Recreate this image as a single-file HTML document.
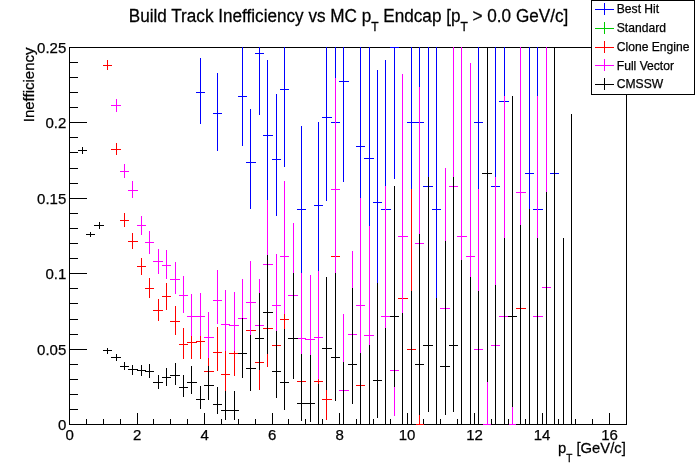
<!DOCTYPE html>
<html><head><meta charset="utf-8"><title>Build Track Inefficiency</title>
<style>html,body{margin:0;padding:0;background:#fff;}svg{display:block;will-change:transform;}</style>
</head><body>
<svg width="696" height="472" viewBox="0 0 696 472" shape-rendering="crispEdges">
<rect x="0" y="0" width="696" height="472" fill="#fff"/>
<path d="M69.5 47.5H626.5V424.5H69.5Z" stroke="#000" fill="none"/>
<path d="M69 409.5H77.5M69 394.5H77.5M69 379.5H77.5M69 364.5H77.5M69 349.5H87M69 334.5H77.5M69 319.5H77.5M69 303.5H77.5M69 288.5H77.5M69 273.5H87M69 258.5H77.5M69 243.5H77.5M69 228.5H77.5M69 213.5H77.5M69 198.5H87M69 183.5H77.5M69 168.5H77.5M69 152.5H77.5M69 137.5H77.5M69 122.5H87M69 107.5H77.5M69 92.5H77.5M69 77.5H77.5M69 62.5H77.5M69 47.5H87M86.5 425V419M103.5 425V419M120.5 425V419M137.5 425V413M153.5 425V419M170.5 425V419M187.5 425V419M204.5 425V413M221.5 425V419M238.5 425V419M255.5 425V419M272.5 425V413M288.5 425V419M305.5 425V419M322.5 425V419M339.5 425V413M356.5 425V419M373.5 425V419M390.5 425V419M407.5 425V413M423.5 425V419M440.5 425V419M457.5 425V419M474.5 425V413M491.5 425V419M508.5 425V419M525.5 425V419M542.5 425V413M558.5 425V419M575.5 425V419M592.5 425V419M609.5 425V413M626.5 425V419" stroke="#000" fill="none"/>
<path d="M200.5 58V124M196 92.5H205M217.5 73V151M213 113.5H222M242.5 47V146M238 96.5H247M250.5 109V209M246 162.5H256M259.5 47V115M255 53.5H264M267.5 60V200M263 135.5H273M276.5 94V216M272 159.5H281M284.5 47V167M280 89.5H289M301.5 126V273M297 209.5H306M318.5 122V271M314 205.5H323M326.5 47V201M322 117.5H332M335.5 47V78M331 122.5H340M343.5 47V182M339 81.5H349M360.5 47V198M356 146.5H365M369.5 47V226M364 158.5H374M377.5 70V283M373 202.5H382M385.5 60V186M381 209.5H391M394.5 47V179M390 47.5H399M411.5 47V189M407 122.5H416M419.5 47V87M415 122.5H424M428.5 47V177M423 186.5H433M436.5 47V298M432 209.5H441M478.5 47V189M474 122.5H483M495.5 47V177M491 186.5H500M504.5 47V96M499 101.5H509M529.5 47V209M525 173.5H534M537.5 47V96M533 209.5H543M554.5 47V192M550 173.5H559" stroke="#0000ff" stroke-width="1" fill="none"/>
<path d="M107.5 60V70M103 65.5H112M116.5 143V155M111 149.5H121M124.5 213V227M120 220.5H129M132.5 233V249M128 241.5H138M141.5 258V275M137 266.5H146M149.5 278V298M145 288.5H154M158.5 299V321M153 310.5H163M166.5 283V310M162 296.5H171M175.5 306V335M170 321.5H180M183.5 328V359M179 344.5H188M191.5 330V359M187 342.5H197M200.5 330V359M196 341.5H205M208.5 350V380M204 371.5H214M217.5 327V371M213 352.5H222M225.5 345V391M221 374.5H230M234.5 340V376M229 353.5H239M250.5 300V334M246 330.5H256M259.5 335V390M255 362.5H264M267.5 300V367M263 328.5H273M276.5 332V397M272 345.5H281M284.5 305V329M280 319.5H289M301.5 360V405M297 381.5H306M318.5 375V384M314 381.5H323M326.5 380V420M322 399.5H332M335.5 200V270M331 256.5H340M360.5 360V410M356 385.5H365M402.5 240V312M398 298.5H408M411.5 189V425M407 349.5H416M419.5 415V425M415 424.5H424M520.5 230V400M516 308.5H526" stroke="#ff0000" stroke-width="1" fill="none"/>
<path d="M116.5 99V112M111 105.5H121M124.5 164V178M120 171.5H129M132.5 181V198M128 190.5H138M141.5 216V235M137 225.5H146M149.5 231V254M145 242.5H154M158.5 249V274M153 261.5H163M166.5 250V279M162 265.5H171M175.5 262V294M170 279.5H180M183.5 276V313M179 295.5H188M191.5 294V336M187 316.5H197M200.5 293V336M196 316.5H205M208.5 312V358M204 337.5H214M217.5 270V324M213 300.5H222M225.5 290V351M221 324.5H230M234.5 292V351M229 325.5H239M242.5 279V330M238 318.5H247M250.5 261V335M246 302.5H256M259.5 279V340M255 325.5H264M267.5 200V300M263 264.5H273M276.5 254V331M272 305.5H281M284.5 181V314M280 256.5H289M293.5 223V300M288 295.5H298M301.5 273V354M297 338.5H306M310.5 275V355M305 339.5H315M318.5 271V379M314 337.5H323M335.5 78V273M331 189.5H340M343.5 314V400M339 390.5H349M352.5 251V340M348 334.5H357M360.5 198V353M356 305.5H365M369.5 226V345M364 335.5H374M385.5 186V328M381 316.5H391M394.5 340V416M390 370.5H399M402.5 74V313M398 236.5H408M419.5 87V260M415 243.5H424M445.5 168V340M440 308.5H450M453.5 47V200M449 186.5H458M461.5 47V260M457 236.5H467M470.5 63V277M466 256.5H475M478.5 189V400M474 349.5H483M487.5 382V425M482 424.5H492M495.5 177V380M491 345.5H500M504.5 96V380M499 316.5H509M512.5 407V425M508 424.5H517M520.5 47V280M516 192.5H526M537.5 96V380M533 316.5H543M546.5 47V380M542 287.5H551" stroke="#ff00ff" stroke-width="1" fill="none"/>
<path d="M82.5 147V154M78 150.5H87M90.5 232V237M86 234.5H95M99.5 222V229M94 225.5H104M107.5 348V354M103 350.5H112M116.5 354V361M111 357.5H121M124.5 362V370M120 366.5H129M132.5 365V375M128 369.5H138M141.5 365V376M137 370.5H146M149.5 364V378M145 371.5H154M158.5 375V389M153 382.5H163M166.5 368V386M162 377.5H171M175.5 363V385M170 375.5H180M183.5 375V397M179 387.5H188M191.5 366V394M187 382.5H197M200.5 386V409M196 399.5H205M208.5 366V400M204 385.5H214M217.5 387V414M213 404.5H222M225.5 391V420M221 410.5H230M234.5 391V420M229 410.5H239M242.5 318V378M238 353.5H247M250.5 335V391M246 368.5H256M259.5 293V370M255 338.5H264M267.5 255V354M263 312.5H273M276.5 331V398M272 371.5H281M284.5 329V410M280 382.5H289M293.5 273V379M288 338.5H298M301.5 354V421M297 403.5H306M310.5 355V422M305 403.5H315M318.5 384V425M314 424.5H323M326.5 277V390M322 348.5H332M335.5 273V401M331 357.5H340M343.5 362V425M339 424.5H349M352.5 288V404M348 364.5H357M360.5 353V425M356 424.5H365M369.5 345V425M364 424.5H374M377.5 283V418M373 380.5H382M385.5 328V425M381 424.5H391M394.5 186V387M390 316.5H399M402.5 313V425M398 424.5H408M411.5 291V425M407 424.5H416M419.5 234V415M415 364.5H424M428.5 177V412M423 345.5H433M436.5 298V425M432 424.5H441M445.5 241V415M440 366.5H450M453.5 177V412M449 345.5H458M461.5 260V425M457 424.5H467M470.5 277V425M466 424.5H475M478.5 291V425M474 424.5H483M487.5 47V382M482 173.5H492M495.5 285V425M491 424.5H500M504.5 238V425M499 424.5H509M512.5 96V407M508 316.5H517M520.5 225V425M516 424.5H526M529.5 209V425M525 424.5H534M537.5 238V425M533 424.5H543M546.5 192V425M542 424.5H551M554.5 47V425M550 424.5H559M563.5 238V425M558 424.5H568M571.5 114V425M567 424.5H576" stroke="#000000" stroke-width="1" fill="none"/>
<g font-family="Liberation Sans, Arial, sans-serif" stroke="#000" stroke-width="0.25" font-size="15" fill="#000"><text x="66.30" y="430.10" text-anchor="end">0</text><text x="66.30" y="354.58" text-anchor="end">0.05</text><text x="66.30" y="279.06" text-anchor="end">0.1</text><text x="66.30" y="203.54" text-anchor="end">0.15</text><text x="66.30" y="128.02" text-anchor="end">0.2</text><text x="66.30" y="52.50" text-anchor="end">0.25</text><text x="69.60" y="439.60" text-anchor="middle">0</text><text x="137.09" y="439.60" text-anchor="middle">2</text><text x="204.58" y="439.60" text-anchor="middle">4</text><text x="272.07" y="439.60" text-anchor="middle">6</text><text x="339.56" y="439.60" text-anchor="middle">8</text><text x="407.05" y="439.60" text-anchor="middle">10</text><text x="474.54" y="439.60" text-anchor="middle">12</text><text x="542.03" y="439.60" text-anchor="middle">14</text><text x="609.52" y="439.60" text-anchor="middle">16</text></g>
<text font-family="Liberation Sans, Arial, sans-serif" stroke="#000" stroke-width="0.25" font-size="15" transform="translate(34,47.5) rotate(-90) scale(1,1.03)" text-anchor="end">Inefficiency</text>
<text font-family="Liberation Sans, Arial, sans-serif" stroke="#000" stroke-width="0.25" font-size="14.8" transform="translate(625.8,452.8) scale(1,1.03)" text-anchor="end">p<tspan font-size="10" dy="8.5">T</tspan><tspan dy="-8.5"> [GeV/c]</tspan></text>
<text font-family="Liberation Sans, Arial, sans-serif" stroke="#000" stroke-width="0.25" font-size="17.15" x="348.5" y="0" transform="translate(0,21.8) scale(1,1.03)" text-anchor="middle">Build Track Inefficiency vs MC p<tspan font-size="12" dy="9.4">T</tspan><tspan dy="-9.4"> Endcap [p</tspan><tspan font-size="12" dy="9.4">T</tspan><tspan dy="-9.4"> &gt; 0.0 GeV/c]</tspan></text>
<rect x="591.5" y="0.5" width="103" height="94" fill="#fff" stroke="#000"/><path d="M595 9.5H614M604.5 3V15" stroke="#0000ff" fill="none"/><text font-family="Liberation Sans, Arial, sans-serif" stroke="#000" stroke-width="0.25" font-size="12.1" x="616.8" y="13.20">Best Hit</text><path d="M595 28.5H614M604.5 22V34" stroke="#00cc00" fill="none"/><text font-family="Liberation Sans, Arial, sans-serif" stroke="#000" stroke-width="0.25" font-size="12.1" x="616.8" y="32.00">Standard</text><path d="M595 47.5H614M604.5 41V53" stroke="#ff0000" fill="none"/><text font-family="Liberation Sans, Arial, sans-serif" stroke="#000" stroke-width="0.25" font-size="12.1" x="616.8" y="50.80">Clone Engine</text><path d="M595 65.5H614M604.5 59V71" stroke="#ff00ff" fill="none"/><text font-family="Liberation Sans, Arial, sans-serif" stroke="#000" stroke-width="0.25" font-size="12.1" x="616.8" y="69.60">Full Vector</text><path d="M595 84.5H614M604.5 78V90" stroke="#000000" fill="none"/><text font-family="Liberation Sans, Arial, sans-serif" stroke="#000" stroke-width="0.25" font-size="12.1" x="616.8" y="88.40">CMSSW</text>
</svg>
</body></html>
